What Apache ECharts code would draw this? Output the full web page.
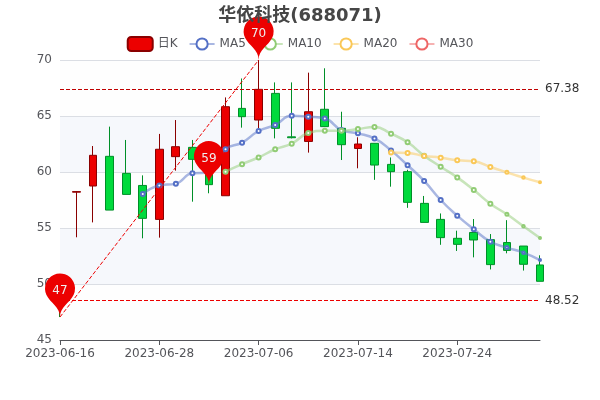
<!DOCTYPE html>
<html><head><meta charset="utf-8">
<script src="https://cdn.jsdelivr.net/npm/echarts@6/dist/echarts.min.js"></script>
<style>html,body{margin:0;background:#fff}#c{width:600px;height:400px}</style></head>
<body><div id="c"></div>
<script>
const dates=['2023-06-16','2023-06-19','2023-06-20','2023-06-21','2023-06-26','2023-06-27','2023-06-28','2023-06-29','2023-06-30','2023-07-03','2023-07-04','2023-07-05','2023-07-06','2023-07-07','2023-07-10','2023-07-11','2023-07-12','2023-07-13','2023-07-14','2023-07-17','2023-07-18','2023-07-19','2023-07-20','2023-07-21','2023-07-24','2023-07-25','2023-07-26','2023-07-27','2023-07-28','2023-07-31'];
const opens =[48.6,58.2,58.75,61.4,59.88,58.8,55.77,61.37,62.2,60.0,57.88,65.68,64.64,67.02,63.14,62.73,65.6,63.9,62.1,62.56,60.68,60.03,57.2,55.77,54.08,54.6,53.96,53.7,53.39,51.7];
const closes=[48.52,58.25,61.49,56.6,58.0,55.86,62.03,62.26,61.13,58.87,65.83,64.94,67.38,63.9,63.06,65.38,64.05,62.44,62.5,60.62,60.03,57.29,55.5,54.14,53.54,53.93,51.73,53.0,51.76,50.24];
const lows  =[47.05,54.17,55.5,56.6,58.0,54.08,54.14,60.12,57.35,58.1,57.88,63.96,63.9,63.0,63.0,61.73,64.05,61.07,60.33,59.3,58.69,56.8,55.5,53.5,52.95,52.38,51.3,52.74,51.2,50.24];
const highs =[48.7,58.3,62.32,64.05,62.86,59.7,63.4,64.64,62.86,60.4,66.66,68.35,70,68.0,68.0,68.87,69.26,65.38,63.1,62.56,61.3,60.2,57.86,56.3,54.76,55.8,54.46,55.7,53.39,52.56];
const ma5=['-','-','-','-','-',58.04,58.8,58.96,59.88,59.95,62.03,62.62,63.66,64.2,65.03,64.94,64.77,63.75,63.45,63.0,61.93,60.6,59.2,57.5,56.1,54.88,53.78,53.25,52.8,52.14];
const ma10=['-','-','-','-','-','-','-','-','-','-',60.03,60.7,61.3,62.03,62.53,63.48,63.69,63.69,63.84,64.02,63.42,62.65,61.46,60.47,59.52,58.39,57.17,56.22,55.15,54.1];
const ma20=['-','-','-','-','-','-','-','-','-','-','-','-','-','-','-','-','-','-','-','-',61.73,61.7,61.43,61.28,61.04,60.95,60.45,59.97,59.5,59.08];
const ma30=dates.map(()=> '-');
const yTicks={min:45,max:70,interval:5};
const kdata=dates.map((d,i)=>[opens[i],closes[i],lows[i],highs[i]]);
const symbolSizes=(v,p)=>p.dataIndex>=29?2:p.dataIndex===28?2.5:p.dataIndex===27?3:4;
const maSeries=(name,data)=>({name,type:'line',data,smooth:true,symbolSize:symbolSizes,lineStyle:{opacity:0.5,width:2.5}});
const chart=echarts.init(document.getElementById('c'),null,{renderer:'canvas'});
const font='"DejaVu Sans","Noto Sans CJK SC",sans-serif';
chart.setOption({
 animation:false,
 textStyle:{fontFamily:font},
 color:['#5470c6','#91cc75','#fac858','#ee6666'],
 title:{text:'华依科技(688071)',left:'center',top:2,textStyle:{fontSize:18,color:'#464646',fontWeight:'bold',fontFamily:font}},
 legend:{data:['日K','MA5','MA10','MA20','MA30'],top:31,left:'center',itemGap:11,textStyle:{fontFamily:font}},
 grid:{left:60,right:60,top:60,bottom:60},
 xAxis:{type:'category',data:dates,boundaryGap:false,axisLine:{onZero:false},splitLine:{show:false},axisLabel:{interval:5,hideOverlap:false,fontFamily:font},axisTick:{interval:5}},
 yAxis:{scale:true,min:yTicks.min,max:yTicks.max,interval:yTicks.interval,splitArea:{show:true,areaStyle:{color:['rgba(250,250,250,0.2)','rgba(210,219,238,0.2)']}},axisLabel:{fontFamily:font}},
 series:[
  {name:'日K',type:'candlestick',data:kdata,
   itemStyle:{color:'#ec0000',color0:'#00da3c',borderColor:'#8A0000',borderColor0:'#008F28'},
   markPoint:{label:{formatter:p=>Math.round(p.value),fontFamily:font},
     itemStyle:{color:'#ec0000'},
     data:[{name:'highest',type:'max',valueDim:'highest'},{name:'lowest',type:'min',valueDim:'lowest'},{name:'average',type:'average',valueDim:'close'}]},
   markLine:{symbol:['none','none'],label:{fontFamily:font},
     data:[
      [{name:'from lowest to highest',type:'min',valueDim:'lowest',symbol:'none',label:{show:false},lineStyle:{width:1,type:'dashed',color:'#ec0000'},emphasis:{label:{show:false}}},
       {type:'max',valueDim:'highest',symbol:'none',label:{show:false}}],
      {name:'min line on close',type:'min',valueDim:'close',lineStyle:{color:'#ec0000',type:'dashed'}},
      {name:'max line on close',type:'max',valueDim:'close',lineStyle:{color:'#c00000',type:'dashed'}}
     ]}},
  maSeries('MA5',ma5),maSeries('MA10',ma10),maSeries('MA20',ma20),maSeries('MA30',ma30)
 ]
});
</script></body></html>
